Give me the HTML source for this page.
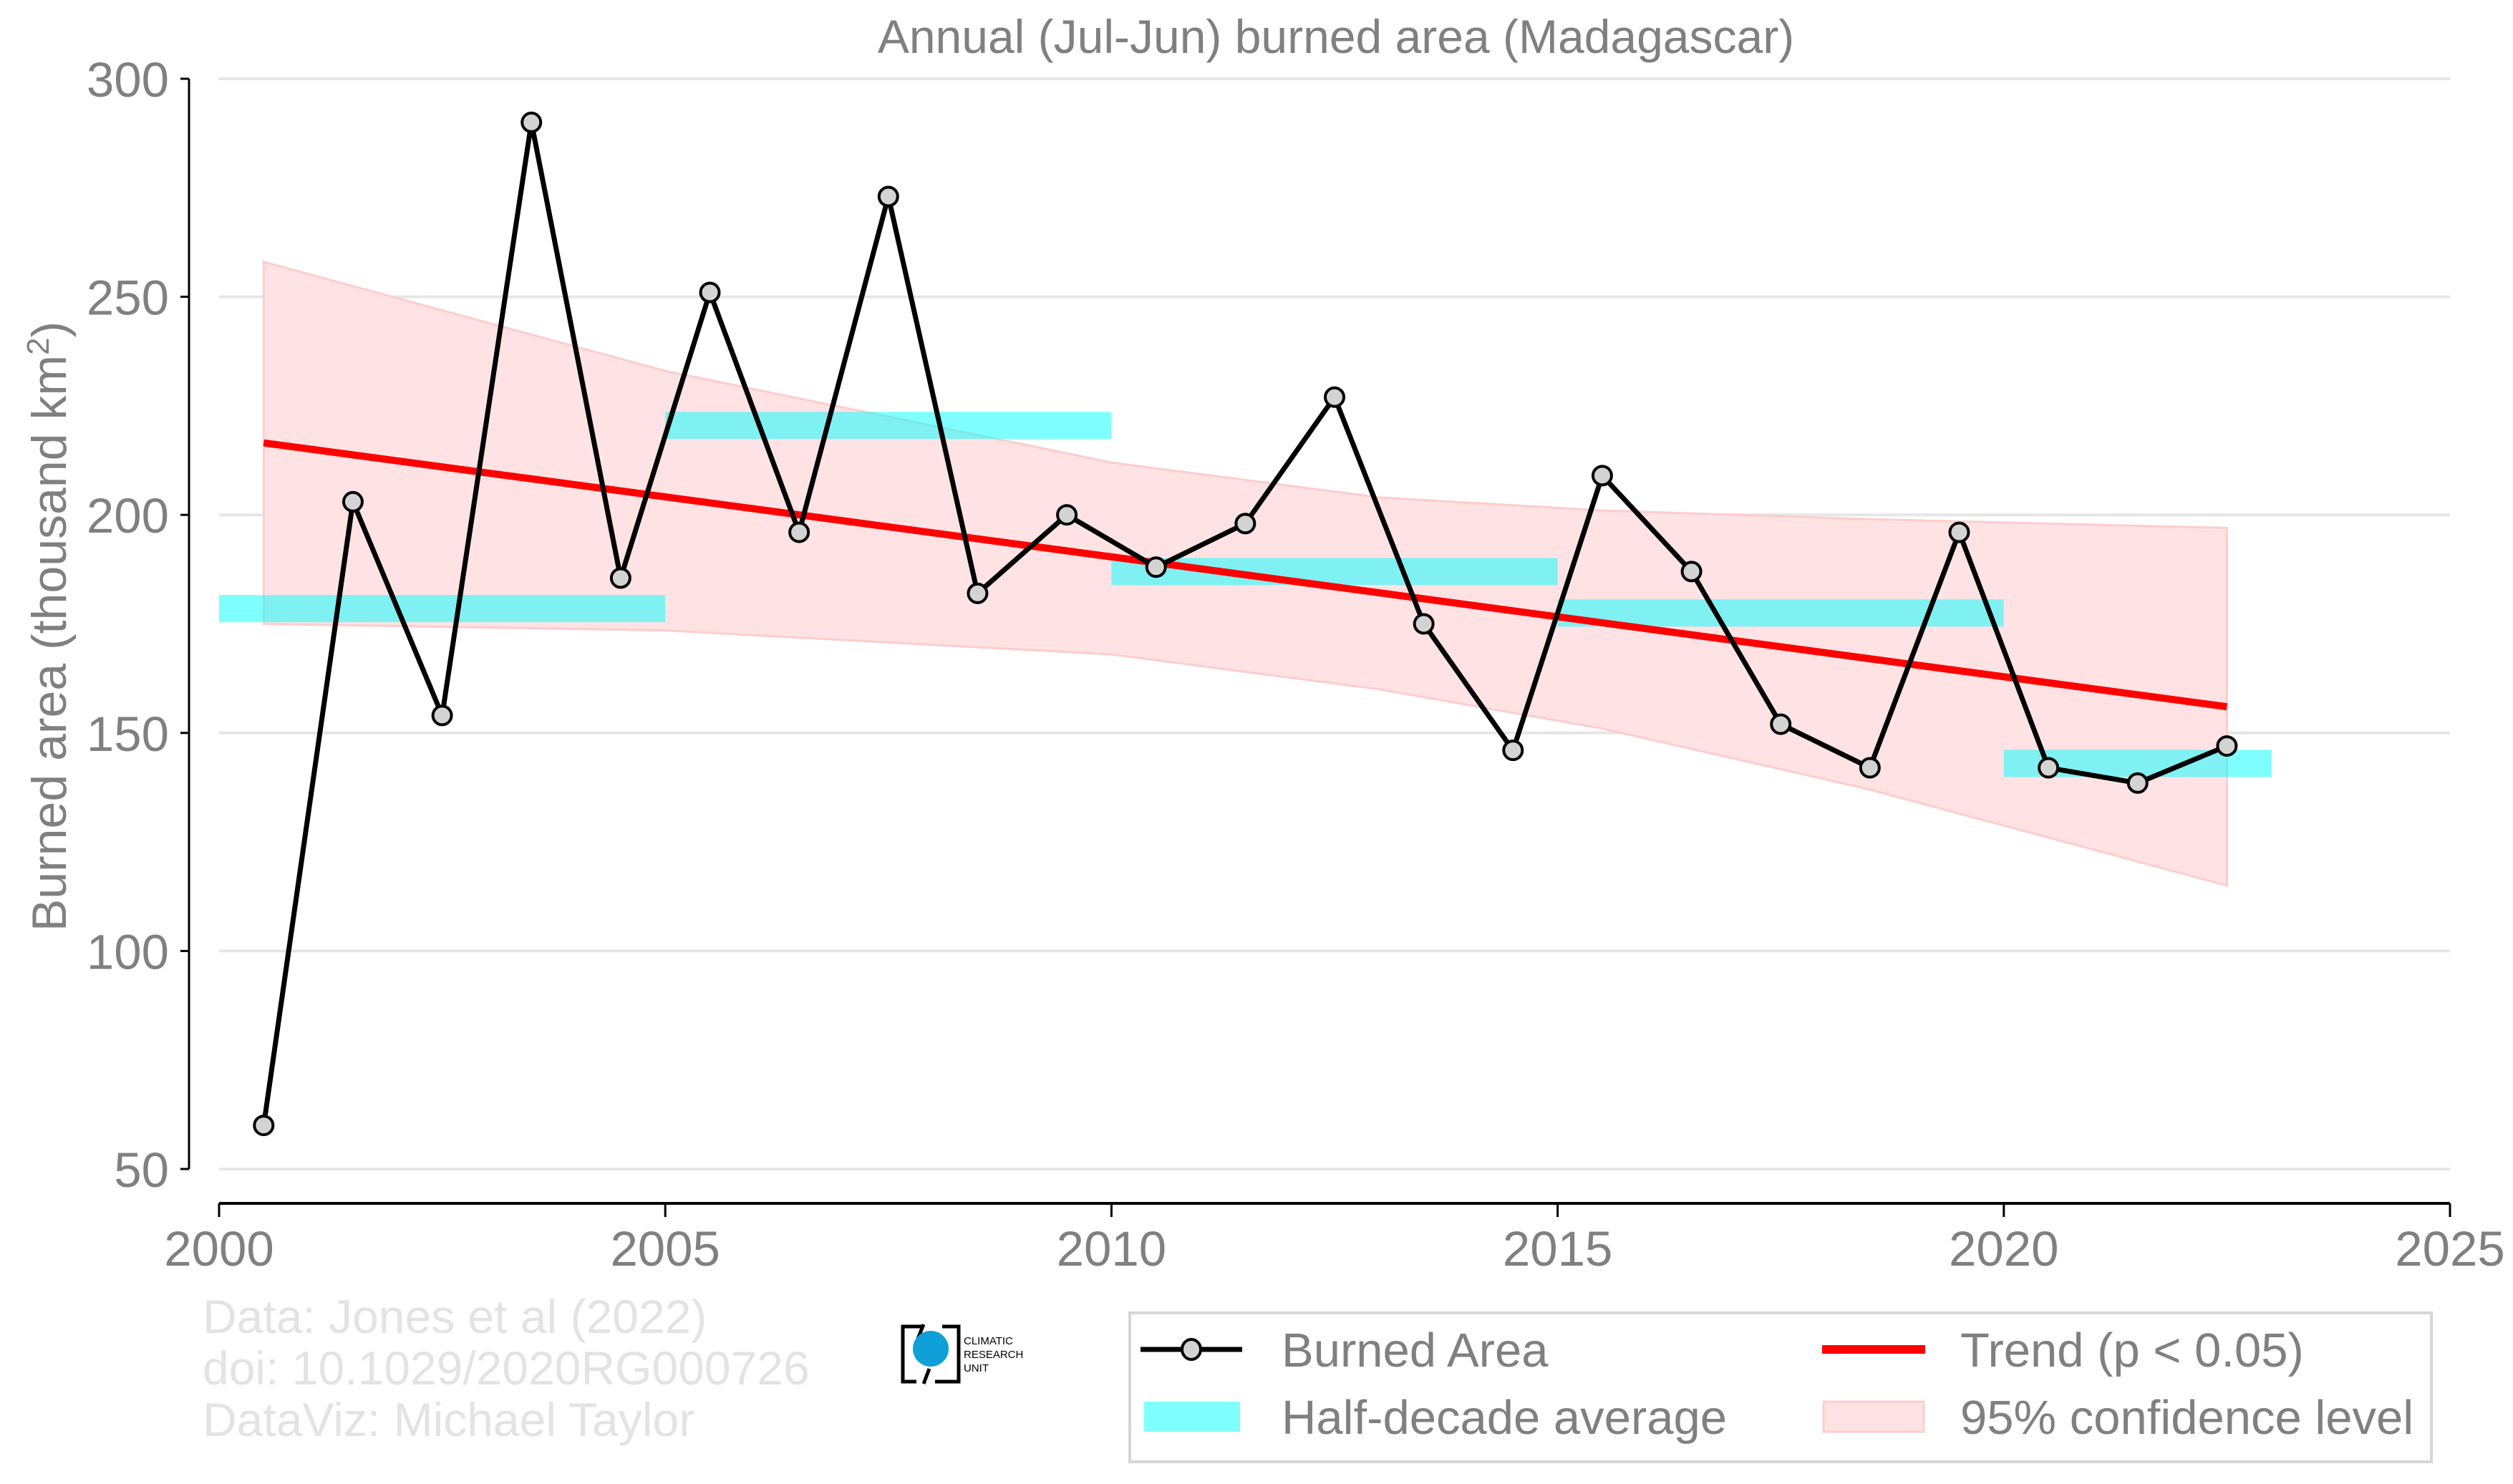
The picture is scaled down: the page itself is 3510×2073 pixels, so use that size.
<!DOCTYPE html>
<html><head><meta charset="utf-8"><style>
html,body{margin:0;padding:0;background:#fff;}
svg{display:block;font-family:"Liberation Sans",sans-serif;}
</style></head><body>
<svg id="chart" width="3510" height="2073" viewBox="0 0 3510 2073" xmlns="http://www.w3.org/2000/svg">
<text x="1866" y="74" font-size="66" fill="#808080" text-anchor="middle">Annual (Jul-Jun) burned area (Madagascar)</text>
<text transform="translate(92,875) rotate(-90)" font-size="68" fill="#808080" text-anchor="middle">Burned area (thousand km<tspan font-size="44" dy="-24">2</tspan><tspan dy="24">)</tspan></text>
<g id="grid"></g>
<g id="ci"></g>
<g id="bars"></g>
<g id="trend"></g>
<g id="series"></g>
<g id="axes"></g>
<g font-size="66" fill="#e3e3e3">
<text x="283" y="1862">Data: Jones et al (2022)</text>
<text x="283" y="1934">doi: 10.1029/2020RG000726</text>
<text x="283" y="2006">DataViz: Michael Taylor</text>
</g>
<g>
<path d="M1287,1853 L1261,1853 L1261,1930 L1280,1930 M1316,1853 L1339,1853 L1339,1930 L1306,1930" fill="none" stroke="#000" stroke-width="5"/>
<line x1="1290" y1="1850" x2="1282" y2="1870" stroke="#000" stroke-width="5"/>
<line x1="1298" y1="1912" x2="1290" y2="1933" stroke="#000" stroke-width="5"/>
<circle cx="1300" cy="1884" r="25" fill="#0ea0d6"/>
<text x="1346" y="1878" font-size="15" fill="#000">CLIMATIC</text>
<text x="1346" y="1897" font-size="15" fill="#000">RESEARCH</text>
<text x="1346" y="1916" font-size="15" fill="#000">UNIT</text>
</g>
<g>
<rect x="1578" y="1834" width="1818" height="208" fill="#fff" stroke="#d6d6d6" stroke-width="4"/>
<g>
<line x1="1593" y1="1885" x2="1735" y2="1885" stroke="#000" stroke-width="7"/>
<ellipse cx="1664" cy="1885" rx="13" ry="14" fill="#d3d3d3" stroke="#000" stroke-width="4"/>
<text x="1790" y="1909" font-size="67" fill="#808080">Burned Area</text>
</g>
<g>
<rect x="1598" y="1958" width="134" height="42" fill="#80ffff"/>
<text x="1790" y="2003" font-size="67" fill="#808080">Half-decade average</text>
</g>
<g>
<rect x="2545" y="1879" width="144" height="12" fill="#ff0000"/>
<text x="2738" y="1909" font-size="67" fill="#808080">Trend (p &lt; 0.05)</text>
</g>
<g>
<rect x="2547" y="1958" width="140" height="42" fill="#ffe3e4" stroke="#ffcccc" stroke-width="3"/>
<text x="2738" y="2003" font-size="67" fill="#808080">95% confidence level</text>
</g>
</g>
</svg>
<script>
const years=[2000.5,2001.5,2002.5,2003.5,2004.5,2005.5,2006.5,2007.5,2008.5,2009.5,2010.5,2011.5,2012.5,2013.5,2014.5,2015.5,2016.5,2017.5,2018.5,2019.5,2020.5,2021.5,2022.5];
const burned=[60,203,154,290,185.5,251,196,273,182,200,188,198,227,175,146,209,187,152,142,196,142,138.5,147];
const halfStart=[2000,2005,2010,2015,2020];
const halfEnd=[2005,2010,2015,2020,2023];
const halfAvg=[178.5,220.5,187,177.5,143];
const trendYears=[2000.5,2022.5];
const trendVals=[216.5,156];
const ciYears=[2000.5,2005,2010,2013,2015.5,2018.5,2022.5];
const ciUpper=[258,233,212,204,201,199,197];
const ciLower=[175,173.5,168,160,151,137,115];
const yTicks=[50,100,150,200,250,300];
const xTicks=[2000,2005,2010,2015,2020,2025];
const NS='http://www.w3.org/2000/svg';
const X=v=>306+(v-2000)*(3422-306)/25;
const Y=v=>1633-(v-50)*(1633-110)/250;
function mk(tag,attrs,parent){const e=document.createElementNS(NS,tag);for(const k in attrs)e.setAttribute(k,attrs[k]);document.getElementById(parent).appendChild(e);return e;}
yTicks.forEach(t=>{
 const g=mk('line',{x1:306,x2:3422,y1:Y(t),y2:Y(t),stroke:'#e6e6e6','stroke-width':4},'grid');
 
 
 const tk=mk('line',{x1:252,x2:264,y1:Y(t),y2:Y(t),stroke:'#000','stroke-width':3},'axes');
 
 
 const tx=mk('text',{x:236,y:Y(t)+25,'font-size':69,fill:'#808080','text-anchor':'end'},'axes');
 tx.textContent=t;
 
 
});
const ya=mk('line',{x1:264,x2:264,y1:Y(300),y2:Y(50),stroke:'#000','stroke-width':3},'axes');


const xa=mk('line',{x1:306,x2:3422,y1:1681,y2:1681,stroke:'#000','stroke-width':4},'axes');


xTicks.forEach(t=>{
 const tk=mk('line',{x1:X(t),x2:X(t),y1:1681,y2:1700,stroke:'#000','stroke-width':3},'axes');
 
 
 const tx=mk('text',{x:X(t),y:1768,'font-size':69,fill:'#808080','text-anchor':'middle'},'axes');
 tx.textContent=t;
 
 
});
let pts=ciYears.map((y,i)=>X(y)+','+Y(ciUpper[i]));
pts=pts.concat(ciYears.map((y,i)=>X(y)+','+Y(ciLower[i])).reverse());
const ci=mk('polygon',{points:pts.join(' '),fill:'#ffe3e4',stroke:'#ffcccc','stroke-width':3},'ci');


halfAvg.forEach((v,i)=>{
 const r=mk('rect',{x:X(halfStart[i]),y:Y(v)-19,width:X(halfEnd[i])-X(halfStart[i]),height:38,fill:'#00ffff','fill-opacity':0.5},'bars');
 
 
});
const tr=mk('line',{x1:X(trendYears[0]),y1:Y(trendVals[0]),x2:X(trendYears[1]),y2:Y(trendVals[1]),stroke:'#ff0000','stroke-width':10},'trend');


const pl=mk('polyline',{points:years.map((y,i)=>X(y)+','+Y(burned[i])).join(' '),fill:'none',stroke:'#000','stroke-width':7,'stroke-linejoin':'round'},'series');


years.forEach((y,i)=>{
 const c=mk('circle',{cx:X(y),cy:Y(burned[i]),r:13,fill:'#d3d3d3',stroke:'#000','stroke-width':4},'series');
 
 
});
</script>
</body></html>
